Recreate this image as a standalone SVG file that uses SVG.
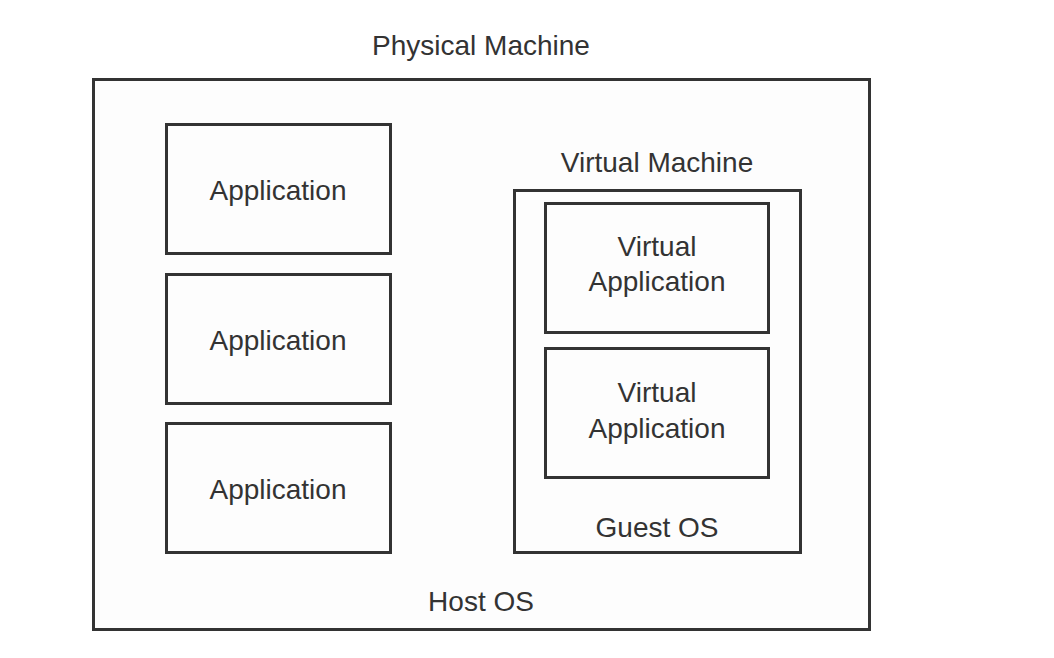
<svg xmlns="http://www.w3.org/2000/svg" width="1054" height="658" viewBox="0 0 1054 658">
<style>
.box{fill:#fdfdfd;stroke:#333;stroke-width:3}
.t{font-family:"Liberation Sans",Arial,sans-serif;font-size:28px;fill:#333;text-anchor:middle}
</style>
<rect width="1054" height="658" fill="#fff"/>
<g id="physical-machine">
<text class="t" x="481" y="55">Physical Machine</text>
<rect class="box" x="93.5" y="79.5" width="776" height="550"/>
<text class="t" x="481" y="611">Host OS</text>
</g>
<g id="app1"><rect class="box" x="166.5" y="124.5" width="224" height="129"/><text class="t" x="278" y="200">Application</text></g>
<g id="app2"><rect class="box" x="166.5" y="274.5" width="224" height="129"/><text class="t" x="278" y="350">Application</text></g>
<g id="app3"><rect class="box" x="166.5" y="423.5" width="224" height="129"/><text class="t" x="278" y="499">Application</text></g>
<g id="virtual-machine">
<text class="t" x="657" y="172">Virtual Machine</text>
<rect class="box" x="514.5" y="190.5" width="286" height="362"/>
<text class="t" x="657" y="537">Guest OS</text>
</g>
<g id="vapp1"><rect class="box" x="545.5" y="203.5" width="223" height="129"/><text class="t" x="657" y="256">Virtual</text><text class="t" x="657" y="291">Application</text></g>
<g id="vapp2"><rect class="box" x="545.5" y="348.5" width="223" height="129"/><text class="t" x="657" y="402">Virtual</text><text class="t" x="657" y="438">Application</text></g>
<g id="connectors"/>
</svg>
